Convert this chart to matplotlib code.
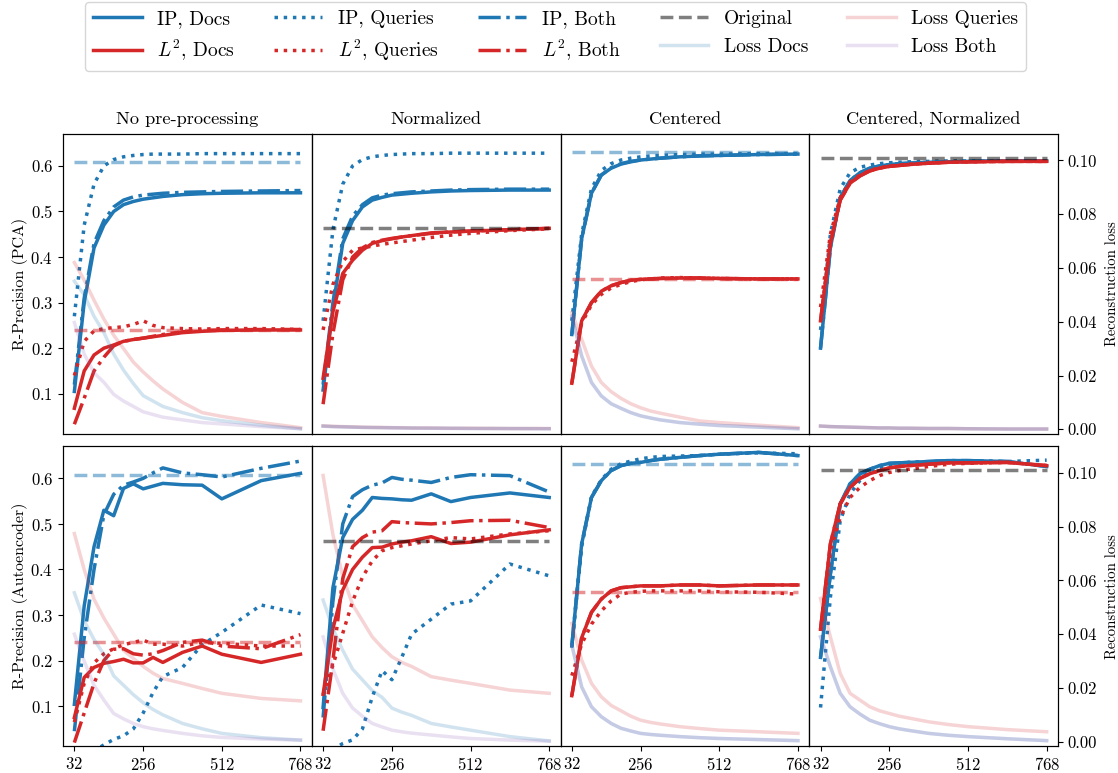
import matplotlib
matplotlib.use("Agg")
import matplotlib.pyplot as plt
from matplotlib.lines import Line2D
from matplotlib.ticker import FormatStrFormatter

plt.rcParams.update({
    "font.family": "cmr10",
    "mathtext.fontset": "cm",
    "axes.formatter.use_mathtext": True,
    "axes.unicode_minus": False,
})

BLUE = "#1f77b4"
RED = "#d62728"
PURPLE = "#9467bd"

DIMS = [32, 64, 96, 128, 160, 192, 224, 256, 288, 320, 384, 448, 512, 640, 768]
X_TICKS = [32, 256, 512, 768]
COL_TITLES = ["No pre-processing", "Normalized", "Centered", "Centered, Normalized"]
ROW_LABELS = ["R-Precision (PCA)", "R-Precision (Autoencoder)"]

# ---------------- PCA, no pre-processing ----------------
pca_raw_ip_docs = [0.105, 0.30, 0.42, 0.47, 0.50, 0.515, 0.522, 0.527, 0.530, 0.533, 0.537, 0.539, 0.540, 0.541, 0.541]
pca_raw_ip_queries = [0.27, 0.47, 0.56, 0.60, 0.614, 0.620, 0.623, 0.625, 0.626, 0.626, 0.626, 0.627, 0.627, 0.627, 0.627]
pca_raw_ip_both = [0.12, 0.31, 0.43, 0.48, 0.51, 0.525, 0.532, 0.536, 0.538, 0.540, 0.542, 0.543, 0.544, 0.545, 0.546]
pca_raw_l2_docs = [0.068, 0.15, 0.185, 0.20, 0.207, 0.215, 0.219, 0.222, 0.225, 0.228, 0.234, 0.237, 0.239, 0.240, 0.240]
pca_raw_l2_queries = [0.14, 0.215, 0.238, 0.243, 0.245, 0.247, 0.252, 0.260, 0.250, 0.245, 0.243, 0.242, 0.243, 0.243, 0.241]
pca_raw_l2_both = [0.033, 0.09, 0.15, 0.18, 0.205, 0.215, 0.219, 0.222, 0.226, 0.230, 0.236, 0.239, 0.240, 0.241, 0.241]
pca_raw_loss_queries = [0.062, 0.0555, 0.048, 0.041, 0.035, 0.030, 0.025, 0.0213, 0.018, 0.015, 0.010, 0.0062, 0.0048, 0.0025, 0.0006]
pca_raw_loss_docs = [0.0551, 0.050, 0.042, 0.036, 0.028, 0.022, 0.017, 0.0125, 0.0105, 0.0085, 0.0062, 0.0043, 0.0032, 0.0015, 0.0002]
pca_raw_loss_both = [0.0397, 0.028, 0.021, 0.0175, 0.013, 0.0105, 0.0085, 0.0065, 0.0055, 0.0045, 0.0035, 0.0025, 0.002, 0.001, 0.0002]
pca_raw_orig_ip = 0.608
pca_raw_orig_l2 = 0.240

# ---------------- PCA, normalized ----------------
pca_norm_ip_docs = [0.108, 0.29, 0.43, 0.48, 0.51, 0.525, 0.531, 0.536, 0.538, 0.540, 0.543, 0.545, 0.546, 0.547, 0.547]
pca_norm_ip_queries = [0.26, 0.46, 0.56, 0.60, 0.614, 0.620, 0.623, 0.625, 0.626, 0.627, 0.627, 0.628, 0.628, 0.628, 0.628]
pca_norm_ip_both = [0.12, 0.30, 0.44, 0.49, 0.515, 0.53, 0.536, 0.539, 0.541, 0.543, 0.545, 0.547, 0.548, 0.549, 0.549]
pca_norm_l2_docs = [0.134, 0.28, 0.364, 0.393, 0.415, 0.43, 0.436, 0.44, 0.444, 0.447, 0.453, 0.455, 0.457, 0.460, 0.463]
pca_norm_l2_queries = [0.24, 0.34, 0.39, 0.415, 0.42, 0.424, 0.428, 0.431, 0.434, 0.437, 0.443, 0.448, 0.452, 0.458, 0.462]
pca_norm_l2_both = [0.077, 0.232, 0.35, 0.40, 0.42, 0.432, 0.437, 0.441, 0.444, 0.447, 0.452, 0.455, 0.457, 0.460, 0.463]
pca_norm_loss_queries = [0.0013, 0.0011, 0.001, 0.0009, 0.0008, 0.0007, 0.0007, 0.0006, 0.0006, 0.0005, 0.0005, 0.0004, 0.0004, 0.0003, 0.0003]
pca_norm_loss_docs = [0.0012, 0.001, 0.0009, 0.0008, 0.0007, 0.0007, 0.0006, 0.0006, 0.0005, 0.0005, 0.0004, 0.0004, 0.0003, 0.0003, 0.0002]
pca_norm_loss_both = [0.0011, 0.001, 0.0009, 0.0008, 0.0007, 0.0006, 0.0006, 0.0005, 0.0005, 0.0004, 0.0004, 0.0003, 0.0003, 0.0002, 0.0002]
pca_norm_orig = 0.463

# ---------------- PCA, centered ----------------
pca_cent_ip_docs = [0.23, 0.44, 0.54, 0.58, 0.595, 0.604, 0.609, 0.613, 0.615, 0.617, 0.620, 0.622, 0.623, 0.625, 0.626]
pca_cent_ip_queries = [0.26, 0.45, 0.55, 0.59, 0.605, 0.613, 0.617, 0.62, 0.622, 0.623, 0.625, 0.626, 0.626, 0.627, 0.627]
pca_cent_ip_both = [0.23, 0.44, 0.54, 0.58, 0.596, 0.605, 0.610, 0.613, 0.615, 0.617, 0.620, 0.622, 0.623, 0.625, 0.626]
pca_cent_l2_docs = [0.123, 0.26, 0.30, 0.325, 0.337, 0.344, 0.349, 0.351, 0.352, 0.353, 0.354, 0.354, 0.353, 0.352, 0.352]
pca_cent_l2_queries = [0.17, 0.255, 0.295, 0.318, 0.332, 0.34, 0.346, 0.35, 0.352, 0.354, 0.355, 0.354, 0.353, 0.352, 0.352]
pca_cent_l2_both = [0.123, 0.26, 0.30, 0.325, 0.337, 0.344, 0.349, 0.351, 0.352, 0.353, 0.354, 0.354, 0.353, 0.352, 0.352]
pca_cent_loss_queries = [0.0434, 0.0335, 0.0235, 0.0174, 0.0140, 0.0115, 0.0095, 0.0080, 0.0068, 0.0060, 0.0045, 0.0031, 0.0025, 0.0015, 0.0006]
pca_cent_loss_docs = [0.0421, 0.0273, 0.0174, 0.0124, 0.0095, 0.0078, 0.0062, 0.0050, 0.0042, 0.0035, 0.0025, 0.0019, 0.0014, 0.0008, 0.0002]
pca_cent_loss_both = [0.0421, 0.0273, 0.0174, 0.0124, 0.0095, 0.0078, 0.0062, 0.0050, 0.0042, 0.0035, 0.0025, 0.0019, 0.0014, 0.0008, 0.0002]
pca_cent_orig_ip = 0.631
pca_cent_orig_l2 = 0.3515

# ---------------- PCA, centered + normalized ----------------
pca_cn_ip_docs = [0.20, 0.42, 0.53, 0.568, 0.585, 0.595, 0.600, 0.603, 0.605, 0.606, 0.608, 0.609, 0.610, 0.611, 0.611]
pca_cn_ip_queries = [0.24, 0.45, 0.55, 0.585, 0.597, 0.602, 0.605, 0.607, 0.608, 0.609, 0.610, 0.611, 0.611, 0.611, 0.611]
pca_cn_ip_both = [0.20, 0.42, 0.53, 0.568, 0.585, 0.595, 0.600, 0.603, 0.605, 0.606, 0.608, 0.609, 0.610, 0.611, 0.611]
pca_cn_l2_docs = [0.26, 0.43, 0.525, 0.562, 0.578, 0.589, 0.595, 0.599, 0.601, 0.603, 0.606, 0.608, 0.609, 0.610, 0.610]
pca_cn_l2_queries = [0.29, 0.45, 0.53, 0.565, 0.58, 0.59, 0.596, 0.60, 0.602, 0.604, 0.606, 0.608, 0.609, 0.610, 0.610]
pca_cn_l2_both = [0.26, 0.43, 0.525, 0.562, 0.578, 0.589, 0.595, 0.599, 0.601, 0.603, 0.606, 0.608, 0.609, 0.610, 0.610]
pca_cn_loss_queries = [0.0012, 0.001, 0.0009, 0.0008, 0.0007, 0.0006, 0.0005, 0.0005, 0.0004, 0.0004, 0.0003, 0.0003, 0.0002, 0.0001, 0.0001]
pca_cn_loss_docs = [0.0012, 0.001, 0.0009, 0.0008, 0.0007, 0.0006, 0.0005, 0.0005, 0.0004, 0.0004, 0.0003, 0.0003, 0.0002, 0.0001, 0.0001]
pca_cn_loss_both = [0.0012, 0.001, 0.0009, 0.0008, 0.0007, 0.0006, 0.0005, 0.0005, 0.0004, 0.0004, 0.0003, 0.0003, 0.0002, 0.0001, 0.0001]
pca_cn_orig = 0.6175

# ---------------- Autoencoder, no pre-processing ----------------
ae_raw_ip_docs = [0.104, 0.32, 0.45, 0.53, 0.518, 0.578, 0.588, 0.577, 0.583, 0.589, 0.586, 0.585, 0.555, 0.595, 0.611]
ae_raw_ip_queries = [0.0, 0.0, 0.002, 0.015, 0.027, 0.035, 0.05, 0.085, 0.13, 0.165, 0.185, 0.235, 0.262, 0.322, 0.303]
ae_raw_ip_both = [0.045, 0.25, 0.40, 0.52, 0.565, 0.585, 0.592, 0.60, 0.612, 0.623, 0.612, 0.608, 0.603, 0.622, 0.638]
ae_raw_l2_docs = [0.075, 0.163, 0.185, 0.194, 0.198, 0.203, 0.195, 0.195, 0.207, 0.196, 0.218, 0.232, 0.214, 0.196, 0.214]
ae_raw_l2_queries = [0.065, 0.15, 0.195, 0.215, 0.226, 0.235, 0.24, 0.245, 0.236, 0.236, 0.232, 0.24, 0.238, 0.232, 0.232]
ae_raw_l2_both = [0.02, 0.085, 0.15, 0.20, 0.225, 0.226, 0.215, 0.212, 0.215, 0.222, 0.24, 0.245, 0.232, 0.226, 0.257]
ae_raw_loss_queries = [0.0774, 0.064, 0.053, 0.046, 0.040, 0.034, 0.031, 0.028, 0.0255, 0.0235, 0.0217, 0.0198, 0.018, 0.0161, 0.0152]
ae_raw_loss_docs = [0.0554, 0.045, 0.038, 0.0325, 0.0245, 0.021, 0.0175, 0.0145, 0.012, 0.010, 0.0068, 0.0048, 0.0031, 0.0015, 0.0006]
ae_raw_loss_both = [0.040, 0.030, 0.021, 0.0155, 0.0105, 0.0085, 0.0068, 0.0056, 0.0048, 0.0042, 0.0031, 0.0022, 0.0016, 0.001, 0.0006]
ae_raw_orig_ip = 0.608
ae_raw_orig_l2 = 0.240

# ---------------- Autoencoder, normalized ----------------
ae_norm_ip_docs = [0.097, 0.36, 0.47, 0.51, 0.53, 0.558, 0.556, 0.555, 0.553, 0.552, 0.566, 0.549, 0.558, 0.568, 0.558]
ae_norm_ip_queries = [0.0, 0.005, 0.018, 0.026, 0.05, 0.12, 0.178, 0.158, 0.207, 0.258, 0.291, 0.324, 0.331, 0.412, 0.386]
ae_norm_ip_both = [0.075, 0.33, 0.50, 0.56, 0.575, 0.585, 0.59, 0.602, 0.598, 0.596, 0.591, 0.602, 0.608, 0.606, 0.57]
ae_norm_l2_docs = [0.126, 0.27, 0.355, 0.40, 0.427, 0.448, 0.449, 0.456, 0.46, 0.463, 0.472, 0.457, 0.46, 0.476, 0.487]
ae_norm_l2_queries = [0.125, 0.19, 0.26, 0.33, 0.383, 0.419, 0.441, 0.448, 0.452, 0.456, 0.463, 0.47, 0.467, 0.478, 0.485]
ae_norm_l2_both = [0.046, 0.20, 0.38, 0.45, 0.47, 0.482, 0.485, 0.505, 0.503, 0.502, 0.50, 0.503, 0.507, 0.508, 0.492]
ae_norm_loss_queries = [0.099, 0.077, 0.0615, 0.051, 0.045, 0.039, 0.035, 0.0316, 0.0295, 0.028, 0.0242, 0.0229, 0.0217, 0.0192, 0.018]
ae_norm_loss_docs = [0.0527, 0.042, 0.034, 0.027, 0.023, 0.019, 0.0165, 0.0125, 0.011, 0.0098, 0.0068, 0.0055, 0.0043, 0.0019, 0.0003]
ae_norm_loss_both = [0.039, 0.027, 0.018, 0.0125, 0.0095, 0.0068, 0.0055, 0.0043, 0.0037, 0.0032, 0.0025, 0.0018, 0.0012, 0.0006, 0.0002]
ae_norm_orig = 0.463

# ---------------- Autoencoder, centered ----------------
ae_cent_ip_docs = [0.232, 0.456, 0.558, 0.595, 0.617, 0.628, 0.633, 0.635, 0.639, 0.642, 0.646, 0.65, 0.653, 0.657, 0.65]
ae_cent_ip_queries = [0.23, 0.45, 0.56, 0.597, 0.62, 0.632, 0.638, 0.643, 0.646, 0.648, 0.649, 0.65, 0.653, 0.656, 0.654]
ae_cent_ip_both = [0.232, 0.456, 0.558, 0.595, 0.617, 0.628, 0.633, 0.635, 0.639, 0.642, 0.646, 0.65, 0.653, 0.657, 0.65]
ae_cent_l2_docs = [0.123, 0.25, 0.306, 0.335, 0.353, 0.36, 0.362, 0.364, 0.364, 0.364, 0.366, 0.366, 0.364, 0.366, 0.366]
ae_cent_l2_queries = [0.167, 0.236, 0.28, 0.309, 0.331, 0.346, 0.35, 0.352, 0.353, 0.353, 0.353, 0.353, 0.351, 0.35, 0.346]
ae_cent_l2_both = [0.123, 0.25, 0.306, 0.335, 0.353, 0.36, 0.362, 0.364, 0.364, 0.364, 0.366, 0.366, 0.364, 0.366, 0.366]
ae_cent_loss_queries = [0.044, 0.0304, 0.0217, 0.0167, 0.0135, 0.0115, 0.0095, 0.008, 0.0072, 0.0066, 0.0056, 0.0049, 0.0043, 0.0037, 0.0031]
ae_cent_loss_docs = [0.036, 0.0204, 0.013, 0.0093, 0.0068, 0.005, 0.004, 0.0031, 0.0027, 0.0024, 0.0019, 0.0015, 0.0012, 0.0008, 0.0004]
ae_cent_loss_both = [0.036, 0.0204, 0.013, 0.0093, 0.0068, 0.005, 0.004, 0.0031, 0.0027, 0.0024, 0.0019, 0.0015, 0.0012, 0.0008, 0.0004]
ae_cent_orig_ip = 0.631
ae_cent_orig_l2 = 0.3515

# ---------------- Autoencoder, centered + normalized ----------------
ae_cn_ip_docs = [0.207, 0.39, 0.544, 0.588, 0.61, 0.62, 0.628, 0.633, 0.634, 0.635, 0.637, 0.639, 0.639, 0.637, 0.626]
ae_cn_ip_queries = [0.097, 0.339, 0.507, 0.566, 0.595, 0.617, 0.624, 0.628, 0.632, 0.635, 0.636, 0.639, 0.637, 0.637, 0.64]
ae_cn_ip_both = [0.207, 0.39, 0.544, 0.588, 0.61, 0.62, 0.628, 0.633, 0.634, 0.635, 0.637, 0.639, 0.639, 0.637, 0.626]
ae_cn_l2_docs = [0.269, 0.456, 0.544, 0.58, 0.60, 0.61, 0.617, 0.623, 0.626, 0.628, 0.631, 0.634, 0.634, 0.635, 0.628]
ae_cn_l2_queries = [0.265, 0.441, 0.514, 0.558, 0.58, 0.595, 0.606, 0.613, 0.617, 0.62, 0.626, 0.631, 0.633, 0.635, 0.628]
ae_cn_l2_both = [0.269, 0.456, 0.544, 0.58, 0.60, 0.61, 0.617, 0.623, 0.626, 0.628, 0.631, 0.634, 0.634, 0.635, 0.628]
ae_cn_loss_queries = [0.0533, 0.039, 0.0254, 0.018, 0.0155, 0.013, 0.0115, 0.0105, 0.0095, 0.0088, 0.0074, 0.0064, 0.0056, 0.0045, 0.0037]
ae_cn_loss_docs = [0.039, 0.0279, 0.018, 0.013, 0.0103, 0.008, 0.0067, 0.0056, 0.0048, 0.0042, 0.0031, 0.0024, 0.0019, 0.0011, 0.0004]
ae_cn_loss_both = [0.039, 0.0279, 0.018, 0.013, 0.0103, 0.008, 0.0067, 0.0056, 0.0048, 0.0042, 0.0031, 0.0024, 0.0019, 0.0011, 0.0004]
ae_cn_orig = 0.618


def panel(ip_docs, ip_queries, ip_both, l2_docs, l2_queries, l2_both,
          loss_queries, loss_docs, loss_both, orig_ip=None, orig_l2=None, orig=None):
    return dict(ip_docs=ip_docs, ip_queries=ip_queries, ip_both=ip_both,
                l2_docs=l2_docs, l2_queries=l2_queries, l2_both=l2_both,
                loss_queries=loss_queries, loss_docs=loss_docs, loss_both=loss_both,
                orig_ip=orig_ip, orig_l2=orig_l2, orig=orig)


panels = [
    [panel(pca_raw_ip_docs, pca_raw_ip_queries, pca_raw_ip_both, pca_raw_l2_docs, pca_raw_l2_queries,
           pca_raw_l2_both, pca_raw_loss_queries, pca_raw_loss_docs, pca_raw_loss_both,
           orig_ip=pca_raw_orig_ip, orig_l2=pca_raw_orig_l2),
     panel(pca_norm_ip_docs, pca_norm_ip_queries, pca_norm_ip_both, pca_norm_l2_docs, pca_norm_l2_queries,
           pca_norm_l2_both, pca_norm_loss_queries, pca_norm_loss_docs, pca_norm_loss_both,
           orig=pca_norm_orig),
     panel(pca_cent_ip_docs, pca_cent_ip_queries, pca_cent_ip_both, pca_cent_l2_docs, pca_cent_l2_queries,
           pca_cent_l2_both, pca_cent_loss_queries, pca_cent_loss_docs, pca_cent_loss_both,
           orig_ip=pca_cent_orig_ip, orig_l2=pca_cent_orig_l2),
     panel(pca_cn_ip_docs, pca_cn_ip_queries, pca_cn_ip_both, pca_cn_l2_docs, pca_cn_l2_queries,
           pca_cn_l2_both, pca_cn_loss_queries, pca_cn_loss_docs, pca_cn_loss_both,
           orig=pca_cn_orig)],
    [panel(ae_raw_ip_docs, ae_raw_ip_queries, ae_raw_ip_both, ae_raw_l2_docs, ae_raw_l2_queries,
           ae_raw_l2_both, ae_raw_loss_queries, ae_raw_loss_docs, ae_raw_loss_both,
           orig_ip=ae_raw_orig_ip, orig_l2=ae_raw_orig_l2),
     panel(ae_norm_ip_docs, ae_norm_ip_queries, ae_norm_ip_both, ae_norm_l2_docs, ae_norm_l2_queries,
           ae_norm_l2_both, ae_norm_loss_queries, ae_norm_loss_docs, ae_norm_loss_both,
           orig=ae_norm_orig),
     panel(ae_cent_ip_docs, ae_cent_ip_queries, ae_cent_ip_both, ae_cent_l2_docs, ae_cent_l2_queries,
           ae_cent_l2_both, ae_cent_loss_queries, ae_cent_loss_docs, ae_cent_loss_both,
           orig_ip=ae_cent_orig_ip, orig_l2=ae_cent_orig_l2),
     panel(ae_cn_ip_docs, ae_cn_ip_queries, ae_cn_ip_both, ae_cn_l2_docs, ae_cn_l2_queries,
           ae_cn_l2_both, ae_cn_loss_queries, ae_cn_loss_docs, ae_cn_loss_both,
           orig=ae_cn_orig)],
]

LW = 2.5
fig, axes = plt.subplots(2, 4, figsize=(11.18, 7.73), dpi=100, sharex=True, sharey=True)
fig.subplots_adjust(left=0.0564, right=0.9463, top=0.8266, bottom=0.0349, wspace=0.0, hspace=0.043)

ref_twin = None
for r in range(2):
    for c in range(4):
        ax = axes[r][c]
        d = panels[r][c]
        tw = ax.twinx()
        if ref_twin is None:
            ref_twin = tw
        else:
            tw.sharey(ref_twin)

        # reconstruction loss on the secondary axis
        tw.plot(DIMS, d["loss_queries"], color=RED, alpha=0.2, lw=LW)
        tw.plot(DIMS, d["loss_docs"], color=BLUE, alpha=0.2, lw=LW)
        tw.plot(DIMS, d["loss_both"], color=PURPLE, alpha=0.2, lw=LW)

        # retrieval quality
        ax.plot(DIMS, d["ip_docs"], color=BLUE, lw=LW, ls="-")
        ax.plot(DIMS, d["ip_queries"], color=BLUE, lw=LW, ls=":")
        ax.plot(DIMS, d["ip_both"], color=BLUE, lw=LW, ls="-.")
        ax.plot(DIMS, d["l2_docs"], color=RED, lw=LW, ls="-")
        ax.plot(DIMS, d["l2_queries"], color=RED, lw=LW, ls=":")
        ax.plot(DIMS, d["l2_both"], color=RED, lw=LW, ls="-.")

        ends = [DIMS[0], DIMS[-1]]
        if d["orig"] is not None:
            ax.plot(ends, [d["orig"]] * 2, color="black", alpha=0.5, lw=LW, ls="--")
        else:
            ax.plot(ends, [d["orig_ip"]] * 2, color=BLUE, alpha=0.5, lw=LW, ls="--")
            ax.plot(ends, [d["orig_l2"]] * 2, color=RED, alpha=0.5, lw=LW, ls="--")

        if r == 0:
            ax.set_title(COL_TITLES[c], fontsize=13.2, pad=7)
            ax.tick_params(axis="x", bottom=False, labelbottom=False)
        else:
            ax.tick_params(axis="x", labelsize=12)
        if c == 0:
            ax.set_ylabel(ROW_LABELS[r], fontsize=11.5, labelpad=2)
            ax.tick_params(axis="y", labelsize=12)
        else:
            ax.tick_params(axis="y", left=False, labelleft=False)
        if c == 3:
            tw.set_ylabel("Reconstruction loss", fontsize=10.6, labelpad=6)
            tw.tick_params(axis="y", labelsize=12)
        else:
            tw.tick_params(axis="y", right=False, labelright=False)

axes[0][0].set_xticks(X_TICKS)
axes[0][0].set_yticks([0.1, 0.2, 0.3, 0.4, 0.5, 0.6])
axes[0][0].set_ylim(0.0125, 0.670)
ref_twin.set_yticks([0.0, 0.02, 0.04, 0.06, 0.08, 0.10])
ref_twin.yaxis.set_major_formatter(FormatStrFormatter("%.2f"))
ref_twin.set_ylim(-0.0016, 0.1098)

handles = [
    Line2D([], [], color=BLUE, lw=LW, ls="-"),
    Line2D([], [], color=RED, lw=LW, ls="-"),
    Line2D([], [], color=BLUE, lw=LW, ls=":"),
    Line2D([], [], color=RED, lw=LW, ls=":"),
    Line2D([], [], color=BLUE, lw=LW, ls="-."),
    Line2D([], [], color=RED, lw=LW, ls="-."),
    Line2D([], [], color="black", alpha=0.5, lw=LW, ls="--"),
    Line2D([], [], color=BLUE, alpha=0.2, lw=LW),
    Line2D([], [], color=RED, alpha=0.2, lw=LW),
    Line2D([], [], color=PURPLE, alpha=0.2, lw=LW),
]
labels = ["IP, Docs", r"$L^2$, Docs", "IP, Queries", r"$L^2$, Queries", "IP, Both", r"$L^2$, Both",
          "Original", "Loss Docs", "Loss Queries", "Loss Both"]
fig.legend(handles, labels, loc="upper center", bbox_to_anchor=(0.497, 0.997), ncol=5,
           fontsize=14, handlelength=2.5, borderaxespad=0.0)

fig.savefig("out.png", dpi=100)
